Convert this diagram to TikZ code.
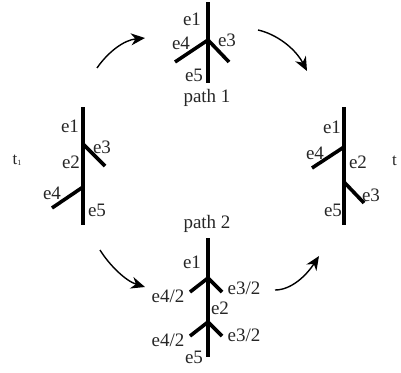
\documentclass[tikz,border=0pt]{standalone}
\usepackage{fontspec}
\setmainfont{Liberation Serif}
\usetikzlibrary{arrows.meta}
\begin{document}
\begin{tikzpicture}[x=1pt,y=-1pt,
  branch/.style={line width=3.6pt},
  lbl/.style={inner sep=0pt,font=\fontsize{19}{21}\selectfont,text=black!85},
  curvarrow/.style={line width=1.4pt,-{Stealth[length=14pt,width=12pt,inset=4.5pt]}}]
\useasboundingbox (0,0) rectangle (401,372);
% ---------- left tree (t1) ----------
\coordinate (Lt) at (83,107); \coordinate (Lb) at (83,225);
\coordinate (Lj1) at (83,144); \coordinate (Le3) at (105,166);
\coordinate (Lj2) at (83,187); \coordinate (Le4) at (52,208);
\draw[branch] (Lt) -- (Lb);
\draw[branch] (Lj1) -- (Le3);
\draw[branch] (Lj2) -- (Le4);
\node[lbl] (l1) at (70,126) {e1};
\node[lbl] (l3) at (102,147) {e3};
\node[lbl] (l2) at (71,162) {e2};
\node[lbl] (l4) at (52,193) {e4};
\node[lbl] (l5) at (97,210) {e5};
\node[inner sep=0pt,font=\fontsize{17}{18}\selectfont,text=black!85] (t1) at (17,160) {t\raisebox{-0.1ex}{\fontsize{8}{9}\selectfont 1}};
% ---------- top tree (path 1) ----------
\coordinate (Tt) at (208,2); \coordinate (Tb) at (208,83);
\coordinate (Tj) at (208,40); \coordinate (Te4) at (175,62); \coordinate (Te3) at (229,62);
\draw[branch] (Tt) -- (Tb);
\draw[branch] (Te4) -- (Tj) -- (Te3);
\node[lbl] (t1e1) at (192,19) {e1};
\node[lbl] (t1e4) at (181,43) {e4};
\node[lbl] (t1e3) at (227,40) {e3};
\node[lbl] (t1e5) at (194,75) {e5};
\node[lbl] (p1) at (207,98) {path 1};
% ---------- right tree (t) ----------
\coordinate (Rt) at (344,107); \coordinate (Rb) at (344,225);
\coordinate (Rj1) at (344,147); \coordinate (Re4) at (312,168);
\coordinate (Rj2) at (344,182); \coordinate (Re3) at (364,203);
\draw[branch] (Rt) -- (Rb);
\draw[branch] (Rj1) -- (Re4);
\draw[branch] (Rj2) -- (Re3);
\node[lbl] (r1) at (332,127) {e1};
\node[lbl] (r4) at (315,153) {e4};
\node[lbl] (r2) at (358,162) {e2};
\node[lbl] (r3) at (371,195) {e3};
\node[lbl] (r5) at (333,210) {e5};
\node[inner sep=0pt,font=\fontsize{17}{18}\selectfont,text=black!85,anchor=west] (tt) at (392,161) {t};
% ---------- bottom tree (path 2) ----------
\coordinate (Bt) at (208,238); \coordinate (Bb) at (208,357);
\coordinate (Bj1) at (208,278); \coordinate (Bl1) at (190,292); \coordinate (Br1) at (222,292);
\coordinate (Bj2) at (208,322); \coordinate (Bl2) at (190,336); \coordinate (Br2) at (222,336);
\draw[branch] (Bt) -- (Bb);
\draw[branch] (Bl1) -- (Bj1) -- (Br1);
\draw[branch] (Bl2) -- (Bj2) -- (Br2);
\node[lbl] (p2) at (207,224) {path 2};
\node[lbl] (b1) at (192,262) {e1};
\node[lbl] (b4a) at (168,296) {e4/2};
\node[lbl] (b3a) at (244,288) {e3/2};
\node[lbl] (b2) at (220,308) {e2};
\node[lbl] (b4b) at (168,340) {e4/2};
\node[lbl] (b3b) at (244,335) {e3/2};
\node[lbl] (b5) at (194,357) {e5};
% ---------- curved arrows ----------
\coordinate (a1s) at (97,68);  \coordinate (a1e) at (145,38);
\coordinate (a2s) at (258,30); \coordinate (a2e) at (307,71);
\coordinate (a3s) at (100,250); \coordinate (a3e) at (145,287);
\coordinate (a4s) at (275,290); \coordinate (a4e) at (319,256);
\draw[curvarrow] (a1s) .. controls (108,52) and (124,40) .. (a1e);
\draw[curvarrow] (a2s) .. controls (276,34) and (295,48) .. (a2e);
\draw[curvarrow] (a3s) .. controls (110,266) and (126,281) .. (a3e);
\draw[curvarrow] (a4s) .. controls (291,290) and (306,276) .. (a4e);
\end{tikzpicture}
\end{document}
